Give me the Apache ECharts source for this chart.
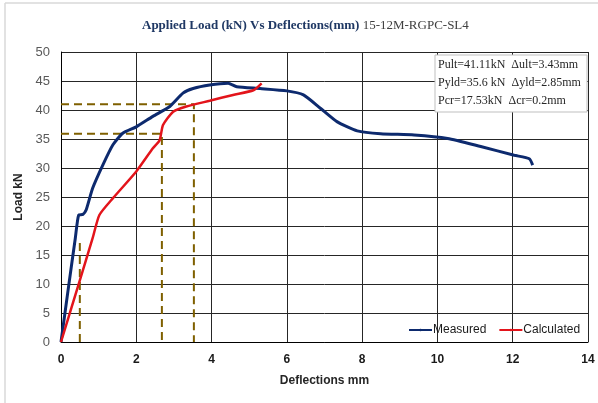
<!DOCTYPE html>
<html>
<head>
<meta charset="utf-8">
<script src="https://cdn.jsdelivr.net/npm/echarts@6/dist/echarts.min.js"></script>
<style>html,body{margin:0;padding:0;background:#fff}#c{width:598px;height:403px}</style>
</head>
<body>
<div id="c"></div>
<script>
// Data
const measuredX = [0, 0.2, 0.38, 0.47, 0.58, 0.67, 0.84, 1.11, 1.38, 1.64, 2.0, 2.44, 2.89, 3.24, 3.51, 3.95, 4.44, 4.67, 5.29, 6.0, 6.44, 6.89, 7.33, 7.87, 8.49, 9.38, 10.27, 11.15, 12.04, 12.44, 12.53];
const measuredY = [0, 9.5, 17.9, 21.9, 22.0, 22.8, 26.5, 30.5, 34.0, 36.0, 37.1, 38.9, 40.6, 42.9, 43.7, 44.3, 44.6, 44.0, 43.7, 43.3, 42.6, 40.3, 38.0, 36.4, 35.9, 35.7, 35.1, 33.7, 32.2, 31.6, 30.5];
const calculatedX = [0, 0.49, 0.84, 1.02, 1.38, 2.0, 2.44, 2.62, 2.71, 2.98, 3.33, 3.95, 4.57, 5.11, 5.33];
const calculatedY = [0, 10.4, 17.9, 21.9, 24.8, 29.4, 33.4, 34.8, 37.4, 39.7, 40.6, 41.6, 42.6, 43.4, 44.6];
const ultGuideX = [0, 3.53, 3.53];
const ultGuideY = [41.0, 41.0, 0];
const yldGuideX = [0, 2.68, 2.68];
const yldGuideY = [35.9, 35.9, 0];
const crGuideX = [0.5, 0.5];
const crGuideY = [0, 17.53];
const infoLines = ["Pult=41.11kN  \u0394ult=3.43mm", "Pyld=35.6 kN  \u0394yld=2.85mm", "Pcr=17.53kN  \u0394cr=0.2mm"];
const seriesNames = ["Measured", "Calculated"];
const titleMain = "Applied Load (kN) Vs Deflections(mm)";
const titleSub = " 15-12M-RGPC-SL4";

const zip = (xs, ys) => xs.map((x, i) => [x, ys[i]]);
const guideStyle = { color: '#7f6000', width: 2, type: [8, 5] };

const chart = echarts.init(document.getElementById('c'), null, { renderer: 'canvas' });
chart.setOption({
  animation: false,
  backgroundColor: '#fff',
  title: {
    left: 137, top: 14,
    text: '{a|' + titleMain + '}{b|' + titleSub + '}',
    textStyle: {
      rich: {
        a: { fontFamily: 'Liberation Serif', fontWeight: 'bold', fontSize: 13, color: '#1f3864' },
        b: { fontFamily: 'Liberation Serif', fontWeight: 'normal', fontSize: 13, color: '#404040' }
      }
    }
  },
  grid: { left: 61, right: 10, top: 52, bottom: 61, containLabel: false },
  legend: {
    data: seriesNames,
    left: 403, top: 319,
    itemWidth: 23, itemHeight: 3, itemGap: 12,
    textStyle: { fontFamily: 'Liberation Sans', fontSize: 12, color: '#1a1a1a', padding: [0, 0, 0, -4] }
  },
  xAxis: {
    type: 'value', min: 0, max: 14, interval: 2,
    name: 'Deflections mm', nameLocation: 'middle', nameGap: 33,
    nameTextStyle: { fontFamily: 'Liberation Sans', fontWeight: 'bold', fontSize: 12, color: '#262626' },
    axisLine: { show: true, onZero: false, lineStyle: { color: '#000', width: 1 } },
    axisTick: { show: false },
    axisLabel: { margin: 12, fontFamily: 'Liberation Sans', fontWeight: 'bold', fontSize: 12, color: '#1a1a1a' },
    splitLine: { show: true, lineStyle: { color: '#262626', width: 1 } }
  },
  yAxis: {
    type: 'value', min: 0, max: 50, interval: 5,
    name: 'Load kN', nameLocation: 'middle', nameGap: 30, nameRotate: 90,
    nameTextStyle: { fontFamily: 'Liberation Sans', fontWeight: 'bold', fontSize: 12, color: '#262626' },
    axisLine: { show: true, lineStyle: { color: '#000', width: 1 } },
    axisTick: { show: false },
    axisLabel: { margin: 11, fontFamily: 'Liberation Sans', fontSize: 13, color: '#595959' },
    splitLine: { show: true, lineStyle: { color: '#262626', width: 1 } }
  },
  series: [
    { name: 'guide1', type: 'line', data: zip(ultGuideX, ultGuideY), symbol: 'none', silent: true, lineStyle: guideStyle, z: 1 },
    { name: 'guide2', type: 'line', data: zip(yldGuideX, yldGuideY), symbol: 'none', silent: true, lineStyle: guideStyle, z: 1 },
    { name: 'guide3', type: 'line', data: zip(crGuideX, crGuideY), symbol: 'none', silent: true, lineStyle: guideStyle, z: 1 },
    { name: seriesNames[0], type: 'line', data: zip(measuredX, measuredY), symbol: 'none', smooth: 0.2,
      lineStyle: { color: '#0d2a6e', width: 3 }, itemStyle: { color: '#0d2a6e' }, z: 3 },
    { name: seriesNames[1], type: 'line', data: zip(calculatedX, calculatedY), symbol: 'none', smooth: 0.2,
      lineStyle: { color: '#e3141b', width: 2.5 }, itemStyle: { color: '#e3141b' }, z: 4 }
  ],
  graphic: [
    { type: 'line', shape: { x1: 5, y1: 3, x2: 5, y2: 403 }, style: { stroke: '#d9d9d9', lineWidth: 1.5 }, silent: true },
    { type: 'line', shape: { x1: 5, y1: 3, x2: 598, y2: 3 }, style: { stroke: '#d9d9d9', lineWidth: 1.5 }, silent: true },
    { type: 'rect', shape: { x: 435, y: 55, width: 152, height: 57 }, style: { fill: '#fff', stroke: '#bfbfbf', lineWidth: 1 }, z: 10 },
    { type: 'text', x: 438, y: 59, z: 11, style: { text: infoLines[0], font: '12px "Liberation Serif"', fill: '#262626' } },
    { type: 'text', x: 438, y: 77, z: 11, style: { text: infoLines[1], font: '12px "Liberation Serif"', fill: '#262626' } },
    { type: 'text', x: 438, y: 95, z: 11, style: { text: infoLines[2], font: '12px "Liberation Serif"', fill: '#262626' } }
  ]
});
</script>
</body>
</html>
